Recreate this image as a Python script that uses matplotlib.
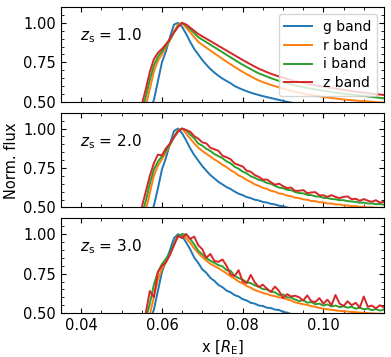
import numpy as np
import matplotlib
matplotlib.use("Agg")
import matplotlib.pyplot as plt
from matplotlib.ticker import MultipleLocator

# sampling grid in units of R_E
x = np.round(np.arange(0.054, 0.1155, 0.001), 3)

# z_s = 1.0
g1 = [0.30, 0.35, 0.40, 0.45, 0.51, 0.63, 0.75, 0.82, 0.91, 0.99,
      1.00, 0.975, 0.93, 0.88, 0.835, 0.80, 0.765, 0.735, 0.708, 0.685,
      0.665, 0.647, 0.632, 0.618, 0.600, 0.588, 0.577, 0.567, 0.558, 0.550,
      0.543, 0.536, 0.530, 0.524, 0.518, 0.512, 0.506, 0.500, 0.495, 0.490,
      0.486, 0.482, 0.478, 0.474, 0.470, 0.467, 0.464, 0.461, 0.458, 0.455,
      0.452, 0.449, 0.446, 0.444, 0.442, 0.440, 0.438, 0.436, 0.434, 0.432,
      0.430, 0.428]
r1 = [0.32, 0.39, 0.47, 0.58, 0.69, 0.76, 0.80, 0.845, 0.89, 0.945,
      0.99, 1.00, 0.97, 0.94, 0.91, 0.88, 0.861, 0.843, 0.825, 0.807,
      0.790, 0.772, 0.755, 0.738, 0.721, 0.705, 0.690, 0.675, 0.661, 0.648,
      0.635, 0.625, 0.616, 0.607, 0.599, 0.591, 0.584, 0.577, 0.570, 0.564,
      0.558, 0.553, 0.548, 0.543, 0.539, 0.535, 0.531, 0.527, 0.524, 0.521,
      0.518, 0.515, 0.512, 0.510, 0.508, 0.506, 0.504, 0.502, 0.500, 0.498,
      0.496, 0.494]
i1 = [0.36, 0.44, 0.53, 0.64, 0.73, 0.785, 0.82, 0.855, 0.895, 0.94,
      0.98, 1.00, 0.985, 0.96, 0.935, 0.91, 0.894, 0.878, 0.862, 0.846,
      0.830, 0.814, 0.798, 0.782, 0.766, 0.750, 0.735, 0.721, 0.707, 0.693,
      0.680, 0.670, 0.660, 0.650, 0.641, 0.632, 0.625, 0.618, 0.611, 0.604,
      0.598, 0.593, 0.588, 0.583, 0.578, 0.574, 0.570, 0.566, 0.562, 0.558,
      0.555, 0.552, 0.549, 0.546, 0.543, 0.540, 0.537, 0.534, 0.531, 0.528,
      0.525, 0.522]
z1 = [0.40, 0.48, 0.58, 0.69, 0.77, 0.81, 0.835, 0.865, 0.90, 0.94,
      0.975, 1.00, 0.99, 0.97, 0.95, 0.93, 0.915, 0.90, 0.885, 0.87,
      0.855, 0.84, 0.825, 0.81, 0.795, 0.78, 0.765, 0.751, 0.737, 0.723,
      0.71, 0.699, 0.688, 0.678, 0.669, 0.66, 0.652, 0.645, 0.638, 0.631,
      0.625, 0.62, 0.615, 0.61, 0.605, 0.60, 0.596, 0.592, 0.588, 0.584,
      0.58, 0.576, 0.572, 0.568, 0.564, 0.561, 0.558, 0.555, 0.552, 0.549,
      0.546, 0.543]

# z_s = 2.0
g2 = [0.30, 0.35, 0.40, 0.45, 0.51, 0.62, 0.74, 0.815, 0.905, 0.985,
      1.00, 0.97, 0.925, 0.875, 0.832, 0.797, 0.762, 0.733, 0.705, 0.684,
      0.662, 0.646, 0.629, 0.617, 0.601, 0.587, 0.578, 0.566, 0.559, 0.549,
      0.544, 0.535, 0.531, 0.523, 0.519, 0.511, 0.507, 0.499, 0.496, 0.489,
      0.486, 0.481, 0.478, 0.473, 0.470, 0.466, 0.464, 0.460, 0.458, 0.454,
      0.452, 0.448, 0.446, 0.443, 0.442, 0.439, 0.438, 0.435, 0.434, 0.431,
      0.430, 0.427]
r2 = [0.33, 0.40, 0.48, 0.59, 0.70, 0.765, 0.805, 0.85, 0.895, 0.95,
      0.99, 1.00, 0.968, 0.937, 0.906, 0.879, 0.858, 0.840, 0.823, 0.804,
      0.789, 0.770, 0.756, 0.736, 0.722, 0.703, 0.691, 0.674, 0.662, 0.646,
      0.637, 0.624, 0.618, 0.605, 0.600, 0.589, 0.585, 0.575, 0.571, 0.562,
      0.559, 0.551, 0.549, 0.541, 0.540, 0.533, 0.532, 0.525, 0.525, 0.519,
      0.519, 0.513, 0.513, 0.508, 0.509, 0.504, 0.505, 0.500, 0.501, 0.497,
      0.498, 0.494]
i2 = [0.37, 0.45, 0.54, 0.65, 0.74, 0.79, 0.825, 0.86, 0.90, 0.945,
      0.985, 1.00, 0.99, 0.962, 0.938, 0.905, 0.892, 0.872, 0.858, 0.838,
      0.825, 0.812, 0.792, 0.78, 0.758, 0.745, 0.727, 0.716, 0.698, 0.688,
      0.675, 0.669, 0.655, 0.650, 0.637, 0.626, 0.622, 0.612, 0.609, 0.598,
      0.591, 0.589, 0.580, 0.578, 0.570, 0.569, 0.561, 0.560, 0.553, 0.552,
      0.546, 0.546, 0.540, 0.538, 0.535, 0.530, 0.531, 0.525, 0.526, 0.520,
      0.522, 0.517]
z2 = [0.41, 0.50, 0.60, 0.70, 0.78, 0.835, 0.83, 0.875, 0.905, 0.945,
      0.98, 1.00, 0.990, 0.980, 0.952, 0.936, 0.913, 0.906, 0.878, 0.869,
      0.859, 0.828, 0.818, 0.806, 0.779, 0.769, 0.760, 0.733, 0.726, 0.705,
      0.694, 0.676, 0.677, 0.660, 0.644, 0.651, 0.635, 0.623, 0.626, 0.605,
      0.606, 0.610, 0.591, 0.595, 0.597, 0.577, 0.577, 0.567, 0.578, 0.567,
      0.559, 0.567, 0.570, 0.552, 0.555, 0.542, 0.553, 0.543, 0.536, 0.546,
      0.531, 0.535]

# z_s = 3.0
g3 = [0.30, 0.36, 0.41, 0.46, 0.52, 0.64, 0.76, 0.83, 0.90, 0.975,
      1.00, 0.988, 0.948, 0.904, 0.852, 0.818, 0.777, 0.755, 0.723, 0.704,
      0.678, 0.664, 0.643, 0.632, 0.614, 0.605, 0.588, 0.580, 0.565, 0.560,
      0.548, 0.545, 0.534, 0.532, 0.522, 0.520, 0.508, 0.503, 0.494, 0.491,
      0.484, 0.482, 0.476, 0.474, 0.469, 0.467, 0.462, 0.461, 0.456, 0.455,
      0.450, 0.449, 0.445, 0.444, 0.440, 0.439, 0.436, 0.435, 0.432, 0.431,
      0.428, 0.427]
r3 = [0.30, 0.36, 0.43, 0.49, 0.60, 0.71, 0.78, 0.83, 0.875, 0.935,
      0.985, 1.00, 0.975, 0.945, 0.91, 0.88, 0.855, 0.832, 0.812, 0.798,
      0.785, 0.768, 0.752, 0.733, 0.718, 0.700, 0.688, 0.672, 0.660, 0.646,
      0.637, 0.628, 0.621, 0.612, 0.607, 0.600, 0.596, 0.587, 0.580, 0.568,
      0.562, 0.556, 0.552, 0.544, 0.540, 0.533, 0.528, 0.524, 0.521, 0.517,
      0.514, 0.512, 0.510, 0.507, 0.506, 0.503, 0.502, 0.500, 0.499, 0.497,
      0.496, 0.494]
i3 = [0.33, 0.39, 0.46, 0.56, 0.68, 0.76, 0.81, 0.845, 0.88, 0.94,
      0.99, 1.00, 0.998, 0.97, 0.935, 0.895, 0.872, 0.848, 0.832, 0.818,
      0.804, 0.796, 0.772, 0.768, 0.735, 0.722, 0.712, 0.695, 0.690, 0.676,
      0.667, 0.652, 0.650, 0.634, 0.632, 0.615, 0.618, 0.600, 0.598, 0.586,
      0.576, 0.582, 0.566, 0.570, 0.556, 0.560, 0.548, 0.555, 0.542, 0.548,
      0.538, 0.543, 0.534, 0.540, 0.528, 0.534, 0.524, 0.529, 0.518, 0.525,
      0.516, 0.522]
z3 = [0.38, 0.44, 0.50, 0.64, 0.60, 0.76, 0.80, 0.82, 0.87, 0.93,
      0.99, 0.975, 1.00, 0.97, 0.985, 0.93, 0.905, 0.85, 0.875, 0.83,
      0.825, 0.84, 0.80, 0.745, 0.735, 0.772, 0.70, 0.69, 0.742, 0.695,
      0.665, 0.68, 0.655, 0.635, 0.668, 0.64, 0.595, 0.62, 0.605, 0.61,
      0.60, 0.58, 0.612, 0.575, 0.57, 0.595, 0.56, 0.585, 0.55, 0.615,
      0.56, 0.545, 0.575, 0.55, 0.565, 0.535, 0.605, 0.54, 0.548, 0.53,
      0.55, 0.535]

redshifts = ["1.0", "2.0", "3.0"]
bands = ["g band", "r band", "i band", "z band"]
colors = ["tab:blue", "tab:orange", "tab:green", "tab:red"]
panels = [(g1, r1, i1, z1), (g2, r2, i2, z2), (g3, r3, i3, z3)]

fig, axes = plt.subplots(3, 1, figsize=(3.91, 3.57), dpi=100, sharex=True)
fig.subplots_adjust(left=0.156, right=0.982, top=0.980, bottom=0.123, hspace=0.116)

for ax, zs, curves in zip(axes, redshifts, panels):
    for y, label, color in zip(curves, bands, colors):
        ax.plot(x, y, color=color, label=label, lw=1.4)
    ax.text(0.06, 0.70, rf"$z_\mathrm{{s}}$ = {zs}", transform=ax.transAxes,
            fontsize=11, va="center")
    ax.set_xlim(0.035, 0.115)
    ax.set_ylim(0.5, 1.1)
    ax.yaxis.set_major_locator(MultipleLocator(0.25))
    ax.yaxis.set_minor_locator(MultipleLocator(0.05))
    ax.xaxis.set_major_locator(MultipleLocator(0.02))
    ax.xaxis.set_minor_locator(MultipleLocator(0.005))
    ax.tick_params(which="both", direction="in", top=True, right=True, labelsize=10.5)

axes[0].legend(loc="upper right", fontsize=10, labelspacing=0.35)
axes[2].set_xlabel(r"x [$R_\mathrm{E}$]", fontsize=10.5)
fig.text(0.03, 0.55, "Norm. flux", rotation=90, va="center", ha="center", fontsize=10.5)

fig.savefig("out.png", dpi=100)
